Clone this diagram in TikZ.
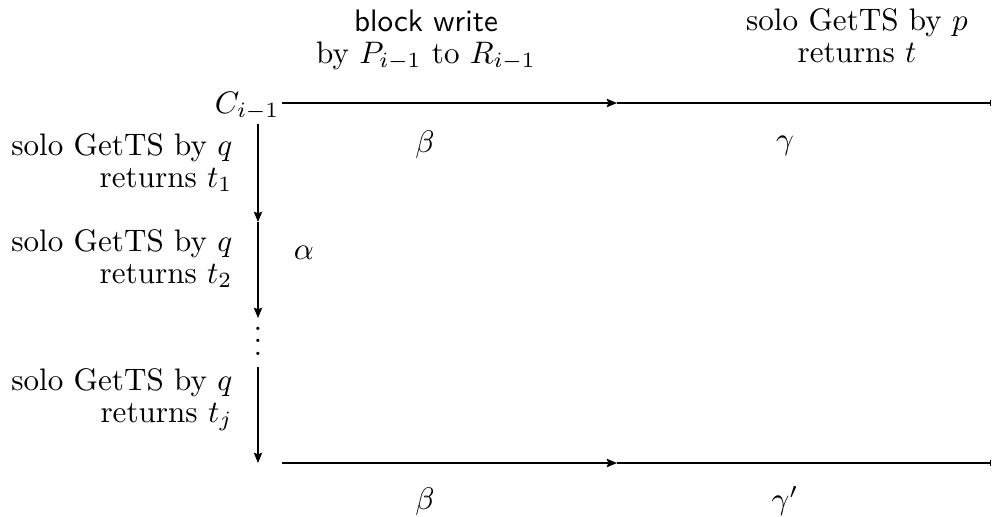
\documentclass[tikz,border=0pt]{standalone}
\usetikzlibrary{arrows.meta}

\tikzset{every picture/.style={line width=0.4pt}}
\tikzset{
  tip/.style={-{Stealth[length=3.3pt,width=2.7pt,inset=0.5pt]}},
  stop/.style={-{Bar[width=2pt]}},
  lbl/.style={inner sep=0pt,font=\fontsize{10}{10.2}\selectfont},
}

\begin{document}
\begin{tikzpicture}[x=0.3215pt,y=0.3215pt,yscale=-1,xscale=1]
\path[use as bounding box] (0,0) rectangle (992,516);

% Points
\coordinate (t0) at (282,103);
\coordinate (t1) at (617,103);
\coordinate (t2) at (991,103);
\coordinate (b0) at (282,463);
\coordinate (b1) at (617,463);
\coordinate (b2) at (991,463);
\coordinate (v0) at (258,124);
\coordinate (v1) at (258,222);
\coordinate (v2) at (258,318);
\coordinate (v3) at (258,367);
\coordinate (v4) at (258,463);

% Text Node
\node (c) [lbl,anchor=base east] at (280,113) {$C_{i-1}$};
% Text Node
\node (vd) [lbl] at (258,332) {$\vdots$};

%Straight Lines
\draw [tip] (t0) -- (t1);
\draw [stop] (t1) -- (t2);
%Straight Lines
\draw [tip] (b0) -- (b1);
\draw [stop] (b1) -- (b2);
%Straight Lines
\draw [tip] (v0) -- (v1);
\draw [tip] (v1) -- (v2);
\draw [tip] (v3) -- (v4);

% Text Node
\node (bw) [lbl,align=center] at (426,40) {\textsf{block write}\\by $P_{i-1}$ to $R_{i-1}$};
% Text Node
\node (gp) [lbl,align=center] at (857,36) {solo GetTS by $p$\\returns $t$};
% Text Node
\node (q1) [lbl,align=right,anchor=north east] at (233,133) {solo GetTS by $q$\\returns $t_1$};
% Text Node
\node (q2) [lbl,align=right,anchor=north east] at (233,229) {solo GetTS by $q$\\returns $t_2$};
% Text Node
\node (q3) [lbl,align=right,anchor=north east] at (233,368) {solo GetTS by $q$\\returns $t_j$};
% Text Node
\node (al) [lbl] at (304,253) {$\alpha$};
% Text Node
\node (be) [lbl] at (425,145) {$\beta$};
% Text Node
\node (ga) [lbl] at (785,146) {$\gamma$};
% Text Node
\node (be2) [lbl] at (425,502) {$\beta$};
% Text Node
\node (ga2) [lbl] at (785,501) {$\gamma'$};

\end{tikzpicture}
\end{document}
